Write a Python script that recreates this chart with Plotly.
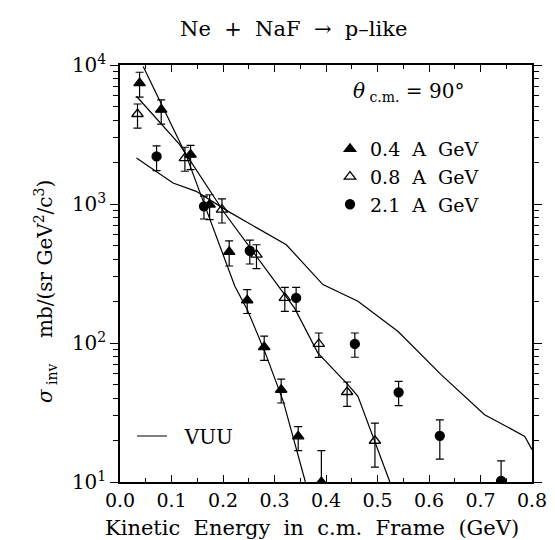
import plotly.graph_objects as go

# ---- data ----
x04 = [0.038, 0.080, 0.137, 0.174, 0.212, 0.247, 0.280, 0.313, 0.346, 0.391]
y04 = [7400, 4770, 2265, 990, 452, 203, 93.6, 46.1, 21.3, 10.0]
hi04 = [8870, 5620, 2640, 1166, 542, 242, 112, 55, 25, 16.8]
lo04 = [5870, 3760, 1770, 771, 358, 163, 75, 37, 16.8, 5.0]

x08 = [0.034, 0.126, 0.198, 0.265, 0.320, 0.386, 0.441, 0.495]
y08 = [4440, 2140, 910, 432, 211, 98.4, 44.4, 19.8]
hi08 = [5240, 2560, 1090, 509, 251, 118, 52.4, 26.5]
lo08 = [3520, 1720, 730, 343, 169, 78.9, 35.0, 12.8]

x21 = [0.071, 0.163, 0.252, 0.342, 0.456, 0.541, 0.621, 0.740]
y21 = [2200, 962, 461, 211, 98.4, 44.2, 21.5, 10.2]
hi21 = [2620, 1140, 549, 251, 118, 53, 28, 14.2]
lo21 = [1740, 780, 370, 169, 79, 35.4, 14.6, 6.0]

vuuA_x = [0.045, 0.128, 0.164, 0.223, 0.247, 0.281, 0.317, 0.360]
vuuA_y = [9770, 2265, 990, 256, 174, 87, 38, 10]
vuuB_x = [0.032, 0.116, 0.203, 0.281, 0.339, 0.384, 0.443, 0.462, 0.524]
vuuB_y = [5960, 2673, 861, 347, 178, 85, 50, 41.4, 10]
vuuC_x = [0.032, 0.103, 0.148, 0.210, 0.323, 0.365, 0.394, 0.462, 0.540, 0.624, 0.708, 0.786, 0.800]
vuuC_y = [2140, 1415, 1233, 885, 509, 347, 263, 200, 121, 59, 30.5, 21.3, 17.1]

x_ticks = [0.0, 0.1, 0.2, 0.3, 0.4, 0.5, 0.6, 0.7, 0.8]
x_ticklabels = ["0.0", "0.1", "0.2", "0.3", "0.4", "0.5", "0.6", "0.7", "0.8"]
y_ticks = [10, 100, 1000, 10000]
y_ticklabels = ["10<sup>1</sup>", "10<sup>2</sup>", "10<sup>3</sup>", "10<sup>4</sup>"]
labels = ["0.4  A  GeV", "0.8  A  GeV", "2.1  A  GeV"]

SERIF = "DejaVu Serif"

def errs(y, hi, lo):
    return [h - v for v, h in zip(y, hi)], [v - l for v, l in zip(y, lo)]

fig = go.Figure()

vx = vuuA_x + [None] + vuuB_x + [None] + vuuC_x
vy = vuuA_y + [None] + vuuB_y + [None] + vuuC_y
fig.add_trace(go.Scatter(x=vx, y=vy, mode="lines", name="  VUU",
                         line=dict(color="black", width=1.2),
                         connectgaps=False, legend="legend2"))

series = [
    (x04, y04, hi04, lo04, "triangle-up", labels[0]),
    (x08, y08, hi08, lo08, "triangle-up-open", labels[1]),
    (x21, y21, hi21, lo21, "circle", labels[2]),
]
for i, (xs, ys, hi, lo, sym, name) in enumerate(series):
    up, dn = errs(ys, hi, lo)
    fig.add_trace(go.Scatter(
        x=xs, y=ys, mode="markers", name=name, legendgroup=str(i),
        marker=dict(symbol=sym, size=10 if "triangle" in sym else 9,
                    color="black", line=dict(color="black", width=1.3)),
        error_y=dict(type="data", symmetric=False, array=up, arrayminus=dn,
                     color="black", thickness=1.2, width=4),
    ))

minor_y = [m * 10 ** d for d in (1, 2, 3) for m in range(2, 10)]

def px_x(p):
    return (p - 112) / 412

def px_y(p):
    return (474 - p) / 417

fig.update_layout(
    width=555, height=540,
    margin=dict(l=112, r=31, t=57, b=66),
    paper_bgcolor="white", plot_bgcolor="white",
    font=dict(family=SERIF, color="black", size=18),
    showlegend=True,
    legend=dict(x=px_x(322), y=px_y(122), xanchor="left", yanchor="top",
                bgcolor="rgba(0,0,0,0)", font=dict(family=SERIF, size=19),
                tracegroupgap=0, itemsizing="trace"),
    legend2=dict(x=px_x(124), y=px_y(428), xanchor="left", yanchor="middle",
                 bgcolor="rgba(0,0,0,0)", font=dict(family=SERIF, size=20)),
    xaxis=dict(range=[0, 0.8], tickvals=x_ticks, ticktext=x_ticklabels,
               ticks="inside", ticklen=7, tickwidth=1.3, tickcolor="black",
               showline=True, linecolor="black", linewidth=1.5, mirror="allticks",
               showgrid=False, zeroline=False,
               tickfont=dict(family=SERIF, size=19),
               minor=dict(dtick=0.05, tick0=0, ticks="inside", ticklen=4,
                          tickcolor="black", tickwidth=1, showgrid=False)),
    yaxis=dict(type="log", range=[1, 4], tickvals=y_ticks, ticktext=y_ticklabels,
               ticks="outside", ticklen=8, tickwidth=1.3, tickcolor="black",
               showline=True, linecolor="black", linewidth=1.5, mirror="allticks",
               showgrid=False, zeroline=False,
               tickfont=dict(family=SERIF, size=20),
               minor=dict(tickmode="array", tickvals=minor_y, ticks="outside",
                          ticklen=5, tickcolor="black", tickwidth=1, showgrid=False)),
    annotations=[
        dict(text="Ne  +  NaF  \u2192  p\u2013like", x=px_x(285), y=px_y(21),
             xref="paper", yref="paper", xanchor="center", yanchor="middle",
             showarrow=False, font=dict(family=SERIF, size=21)),
        dict(text="Kinetic  Energy  in  c.m.  Frame  (GeV)", xref="paper", yref="paper",
             x=px_x(304), y=px_y(520), xanchor="center", yanchor="middle",
             showarrow=False, font=dict(family=SERIF, size=21)),
        dict(text="<i>\u03c3</i><sub> inv</sub>    mb/(sr GeV<sup>2</sup>/c<sup>3</sup>)",
             xref="paper", yref="paper", x=px_x(37), y=px_y(284),
             xanchor="center", yanchor="middle", textangle=-90, showarrow=False,
             font=dict(family=SERIF, size=20)),
        dict(text="<i>\u03b8</i><sub> c.m.</sub> = 90\u00b0", xref="paper", yref="paper",
             x=px_x(343), y=px_y(84), xanchor="left", yanchor="middle",
             showarrow=False, font=dict(family=SERIF, size=20)),
    ],
)

fig.write_html("out.html")
